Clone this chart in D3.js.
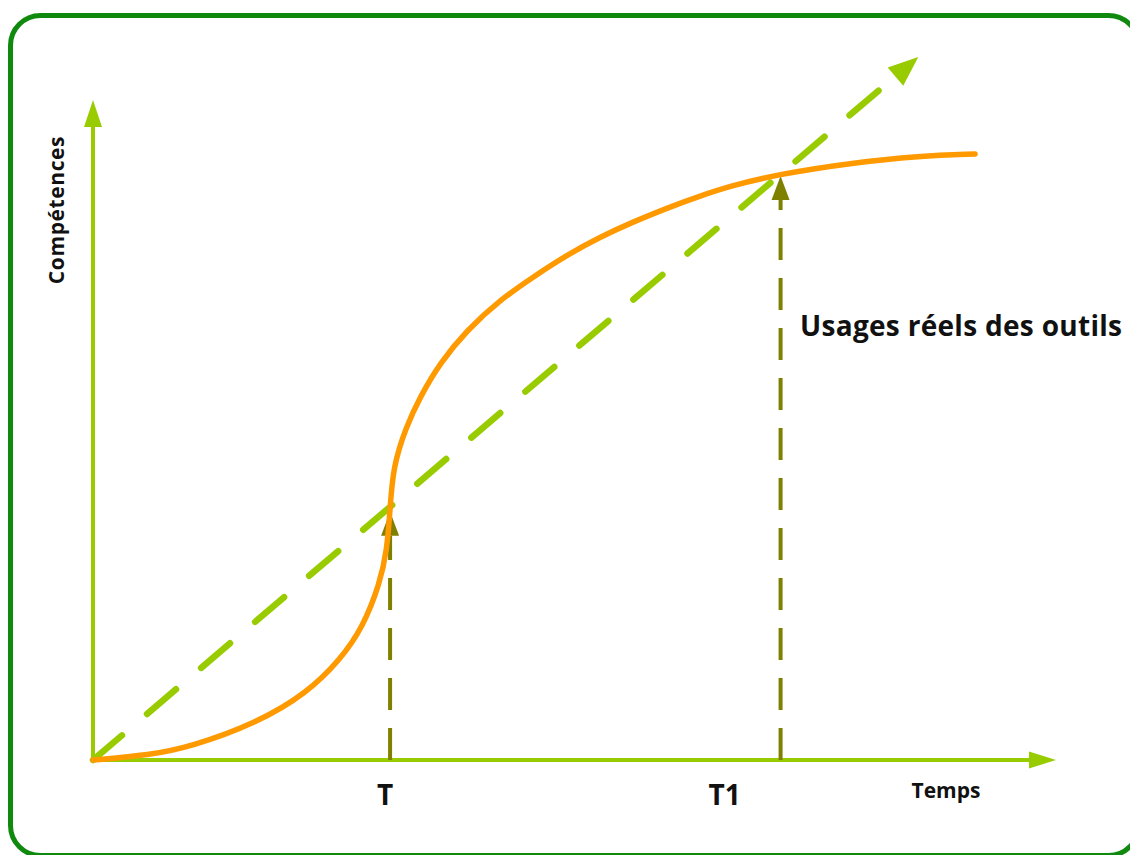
<!DOCTYPE html>
<html><head><meta charset="utf-8">
<script src="https://cdn.jsdelivr.net/npm/d3@7"></script>
<style>
html,body{margin:0;padding:0;background:#fff;overflow:hidden}
text{font-family:"Open Sans",Lato,sans-serif;font-weight:bold;fill:#111}
</style></head>
<body>
<svg id="chart" width="1130" height="855"></svg>
<script>
// --- data (time 0..100, competence 0..100) ---
const curveTime  = [0, 5.92, 10.07, 17.03, 22.22, 25.65, 28.04, 29.80, 30.53, 30.84, 31.15, 32.50, 33.96, 36.03, 38.84, 42.26, 45.69, 49.22, 52.65, 56.07, 59.61, 63.03, 66.15, 71.34, 78.61, 85.88, 91.59];
const curveLevel = [0, 0.76, 1.97, 5.61, 10.15, 15.15, 20.15, 26.82, 31.82, 37.88, 44.39, 50.45, 55.00, 60.15, 65.15, 69.70, 73.18, 76.52, 79.24, 81.52, 83.64, 85.45, 86.97, 88.79, 90.45, 91.52, 91.82];
const trendTime  = [0, 85.7];
const trendLevel = [0, 106.5];
const markTime   = [30.85, 71.4];
const markLevel  = [37.6, 88.5];
const markLabels = ["T", "T1"];
const xAxisLabel = "Temps";
const yAxisLabel = "Compétences";
const annotation = "Usages réels des outils";

const svg = d3.select("#chart");
const x = d3.scaleLinear().domain([0, 100]).range([93, 1056]);
const y = d3.scaleLinear().domain([0, 100]).range([760, 100]);

const GREEN = "#99cc00", ORANGE = "#ff9900", OLIVE = "#808000", BORDER = "#0f8a0f";

// frame
svg.append("rect").attr("x", 10.5).attr("y", 15.5).attr("width", 1128).attr("height", 840)
  .attr("rx", 30).attr("ry", 30).attr("fill", "none").attr("stroke", BORDER).attr("stroke-width", 5);

// helper: arrowhead triangle at tip, pointing along direction (dx,dy)
function head(tx, ty, dx, dy, len, half, color) {
  const L = Math.hypot(dx, dy), ux = dx / L, uy = dy / L;
  const bx = tx - ux * len, by = ty - uy * len;
  const px = -uy, py = ux;
  svg.append("path")
    .attr("d", `M${tx},${ty}L${bx + px * half},${by + py * half}L${bx - px * half},${by - py * half}Z`)
    .attr("fill", color);
  return [bx, by];
}

// axes
const x0 = x(0), y0 = y(0), xEnd = x(100), yEnd = y(100);
let b = head(xEnd, y0, 1, 0, 27, 8.5, GREEN);
svg.append("line").attr("x1", x0).attr("y1", y0).attr("x2", b[0] + 1).attr("y2", y0)
  .attr("stroke", GREEN).attr("stroke-width", 4);
b = head(x0, yEnd, 0, -1, 27, 9, GREEN);
svg.append("line").attr("x1", x0).attr("y1", y0).attr("x2", x0).attr("y2", b[1] - 1)
  .attr("stroke", GREEN).attr("stroke-width", 4);

// trend dashed arrow
{
  const sx = x(trendTime[0]), sy = y(trendLevel[0]), tx = x(trendTime[1]), ty = y(trendLevel[1]);
  const bb = head(tx, ty, tx - sx, ty - sy, 30, 12, GREEN);
  svg.append("line").attr("x1", sx).attr("y1", sy).attr("x2", bb[0] + 2).attr("y2", bb[1] - 2)
    .attr("stroke", GREEN).attr("stroke-width", 6.5).attr("stroke-linecap", "round")
    .attr("stroke-dasharray", "38,33");
}

// olive dashed markers
markTime.forEach((t, i) => {
  const mx = x(t), top = y(markLevel[i]);
  const bb = head(mx, top, 0, -1, 24, 9, OLIVE);
  svg.append("line").attr("x1", mx).attr("y1", y0).attr("x2", mx).attr("y2", bb[1])
    .attr("stroke", OLIVE).attr("stroke-width", 4).attr("stroke-dasharray", "32,18");
});

// orange curve
const pts = curveTime.map((t, i) => [t, curveLevel[i]]);
svg.append("path").datum(pts)
  .attr("d", d3.line().x(d => x(d[0])).y(d => y(d[1])).curve(d3.curveBasis))
  .attr("fill", "none").attr("stroke", ORANGE).attr("stroke-width", 5.5).attr("stroke-linecap", "round");

// labels
markTime.forEach((t, i) => {
  svg.append("text").attr("x", x(t) - (i ? 56 : 5)).attr("y", 805).attr("text-anchor", "middle")
    .style("font-size", "28px").text(markLabels[i]);
});
svg.append("text").attr("x", 946).attr("y", 798).attr("text-anchor", "middle")
  .style("font-size", "21px").text(xAxisLabel);
svg.append("text").attr("transform", "translate(64,210) rotate(-90)").attr("text-anchor", "middle")
  .style("font-size", "21px").style("letter-spacing", "0.6px").text(yAxisLabel);
svg.append("text").attr("x", 800).attr("y", 336)
  .style("font-size", "28px").style("letter-spacing", "0.3px").text(annotation);
</script>
</body></html>
